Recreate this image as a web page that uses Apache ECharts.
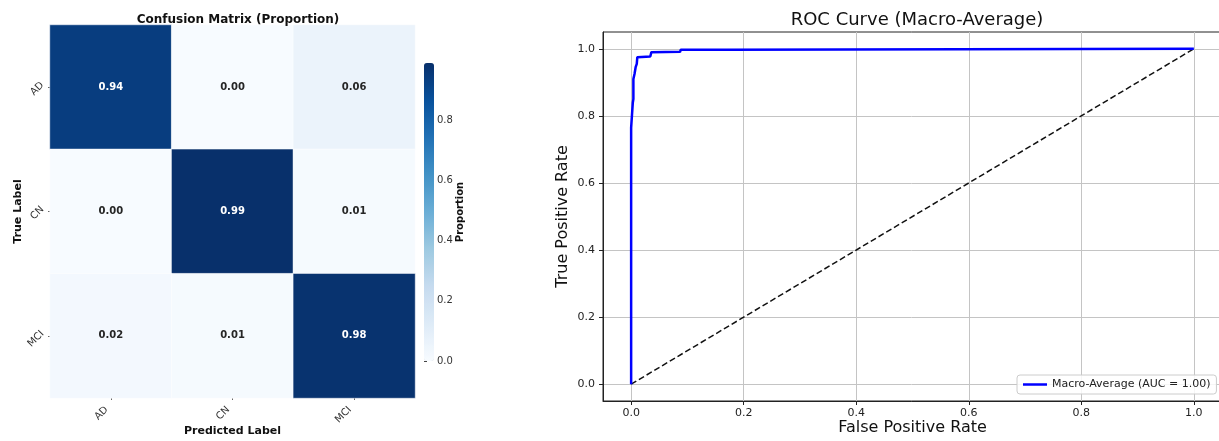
<!DOCTYPE html>
<html>
<head>
<meta charset="utf-8">
<script src="https://cdn.jsdelivr.net/npm/echarts@6/dist/echarts.min.js"></script>
<style>
html,body{margin:0;padding:0;background:#fff;}
#chart{width:1219px;height:441px;}
</style>
</head>
<body>
<div id="chart"></div>
<script>
// ---- Data ----
const cmClasses = ['AD', 'CN', 'MCI'];
const cmRowAD  = [0.94, 0.00, 0.06];
const cmRowCN  = [0.00, 0.99, 0.01];
const cmRowMCI = [0.02, 0.01, 0.98];
const cmRows = [cmRowAD, cmRowCN, cmRowMCI];
const cbarTicks = [0, 0.2, 0.4, 0.6, 0.8];

const rocFpr = [0, 0, 0.003, 0.003, 0.004, 0.004, 0.006, 0.006, 0.008, 0.008, 0.010, 0.011, 0.034, 0.036, 0.087, 0.088, 0.170, 0.171, 1.0];
const rocTpr = [0, 0.765, 0.770, 0.840, 0.850, 0.910, 0.915, 0.925, 0.930, 0.945, 0.955, 0.975, 0.977, 0.990, 0.991, 0.997, 0.997, 1.000, 1.0];
const diagX = [0, 1];
const diagY = [0, 1];
const rocTicks = [0, 0.2, 0.4, 0.6, 0.8, 1.0];
const rocLabel = 'Macro-Average (AUC = 1.00)';

// ---- Build ----
const FONT = 'DejaVu Sans';
const blues = ['#f7fbff','#deebf7','#c6dbef','#9ecae1','#6baed6','#4292c6','#2171b5','#08519c','#08306b'];
const heatData = [];
cmRows.forEach((row, i) => row.forEach((v, j) => {
  heatData.push({ value: [j, i, v], label: { color: v > 0.5 ? '#ffffff' : '#262626' } });
}));
const rocData = rocFpr.map((x, i) => [x, rocTpr[i]]);
const diagData = diagX.map((x, i) => [x, diagY[i]]);

const chart = echarts.init(document.getElementById('chart'), null, { renderer: 'canvas' });
const tickStyle = { fontFamily: FONT, fontSize: 11, color: '#222' };

chart.setOption({
  animation: false,
  backgroundColor: '#ffffff',
  textStyle: { fontFamily: FONT },
  title: [
    { text: 'Confusion Matrix (Proportion)', left: 233, top: 9, textAlign: 'center',
      textStyle: { fontFamily: FONT, fontSize: 12, fontWeight: 'bold', color: '#111' } },
    { text: 'ROC Curve (Macro-Average)', left: 912, top: 6, textAlign: 'center',
      textStyle: { fontFamily: FONT, fontSize: 18, fontWeight: 'normal', color: '#111' } }
  ],
  grid: [
    { left: 50, top: 25, width: 365, height: 373, containLabel: false, outerBoundsMode: 'none' },
    { left: 603, top: 32, width: 619, height: 369, containLabel: false, outerBoundsMode: 'none',
      show: true, borderColor: '#222', borderWidth: 1, backgroundColor: 'transparent' },
    { left: 424, top: 63, width: 10, height: 298, containLabel: false, outerBoundsMode: 'none' }
  ],
  visualMap: {
    type: 'continuous', min: 0, max: 0.99, seriesIndex: 0, calculable: false,
    orient: 'vertical', left: 424, top: 63, itemWidth: 10, itemHeight: 298, padding: 0,
    text: null, showLabel: false, inRange: { color: blues }
  },
  xAxis: [
    { gridIndex: 0, type: 'category', data: cmClasses, position: 'bottom',
      axisLine: { show: false }, splitLine: { show: false },
      axisTick: { show: true, alignWithLabel: true, length: 2, lineStyle: { color: '#666' } },
      axisLabel: { rotate: 45, fontFamily: FONT, fontSize: 10, color: '#333', margin: 6, padding: [0, 6, 0, 0] },
      name: 'Predicted Label', nameLocation: 'middle', nameGap: 28, nameMoveOverlap: false,
      nameTextStyle: { fontFamily: FONT, fontSize: 11, fontWeight: 'bold', color: '#111' } },
    { gridIndex: 1, type: 'value', min: -0.05, max: 1.05,
      axisLine: { show: true, onZero: false, lineStyle: { color: '#222', width: 1 } },
      axisTick: { show: true, length: 4, lineStyle: { color: '#222' }, customValues: rocTicks },
      axisLabel: Object.assign({ margin: 7, customValues: rocTicks, formatter: v => v.toFixed(1) }, tickStyle),
      splitLine: { show: true, lineStyle: { color: '#c4c4c4', width: 1 } },
      name: 'False Positive Rate', nameLocation: 'middle', nameGap: 19, nameMoveOverlap: false,
      nameTextStyle: { fontFamily: FONT, fontSize: 16, color: '#111' } },
    { gridIndex: 2, type: 'value', show: false, min: 0, max: 1 }
  ],
  yAxis: [
    { gridIndex: 0, type: 'category', data: cmClasses, inverse: true,
      axisLine: { show: false }, splitLine: { show: false },
      axisTick: { show: true, alignWithLabel: true, length: 2, lineStyle: { color: '#666' } },
      axisLabel: { rotate: 45, fontFamily: FONT, fontSize: 10, color: '#333', margin: 4, verticalAlign: 'bottom' },
      name: 'True Label', nameLocation: 'middle', nameGap: 26, nameRotate: 90, nameMoveOverlap: false,
      nameTextStyle: { fontFamily: FONT, fontSize: 11, fontWeight: 'bold', color: '#111' } },
    { gridIndex: 1, type: 'value', min: -0.05, max: 1.05,
      axisLine: { show: true, onZero: false, lineStyle: { color: '#222', width: 1 } },
      axisTick: { show: true, length: 4, lineStyle: { color: '#222' }, customValues: rocTicks },
      axisLabel: Object.assign({ margin: 8, customValues: rocTicks, formatter: v => v.toFixed(1) }, tickStyle),
      splitLine: { show: true, lineStyle: { color: '#c4c4c4', width: 1 } },
      name: 'True Positive Rate', nameLocation: 'middle', nameGap: 32, nameRotate: 90, nameMoveOverlap: false,
      nameTextStyle: { fontFamily: FONT, fontSize: 16, color: '#111' } },
    { gridIndex: 2, type: 'value', position: 'right', min: 0, max: 0.99,
      axisLine: { show: false }, splitLine: { show: false },
      axisTick: { show: true, length: 3, lineStyle: { color: '#444' }, customValues: cbarTicks },
      axisLabel: { customValues: cbarTicks, formatter: v => v.toFixed(1), fontFamily: FONT, fontSize: 10, color: '#333', margin: 3 },
      name: 'Proportion', nameLocation: 'middle', nameGap: 21, nameRotate: 90, nameMoveOverlap: false,
      nameTextStyle: { fontFamily: FONT, fontSize: 10, fontWeight: 'bold', color: '#111' } }
  ],
  legend: {
    data: [rocLabel], left: 1017, top: 375, orient: 'horizontal',
    backgroundColor: 'rgba(255,255,255,0.85)', borderColor: '#cccccc', borderWidth: 1, borderRadius: 3,
    padding: [4, 6, 4, 6], itemWidth: 24, itemHeight: 2.5, itemGap: 6, icon: 'rect',
    textStyle: { fontFamily: FONT, fontSize: 11, color: '#222' }
  },
  series: [
    { type: 'heatmap', xAxisIndex: 0, yAxisIndex: 0, data: heatData,
      itemStyle: { borderColor: '#ffffff', borderWidth: 0.5 },
      label: { show: true, fontFamily: FONT, fontSize: 10, fontWeight: 'bold',
        formatter: p => p.value[2].toFixed(2) } },
    { type: 'line', name: 'diag', xAxisIndex: 1, yAxisIndex: 1, data: diagData,
      showSymbol: false, symbol: 'none', z: 2,
      lineStyle: { color: '#111', width: 1.5, type: [6, 3] } },
    { type: 'line', name: rocLabel, xAxisIndex: 1, yAxisIndex: 1, data: rocData,
      showSymbol: false, symbol: 'none', z: 3, itemStyle: { color: '#0000ff' },
      lineStyle: { color: '#0000ff', width: 2.5 } }
  ]
});
</script>
</body>
</html>
